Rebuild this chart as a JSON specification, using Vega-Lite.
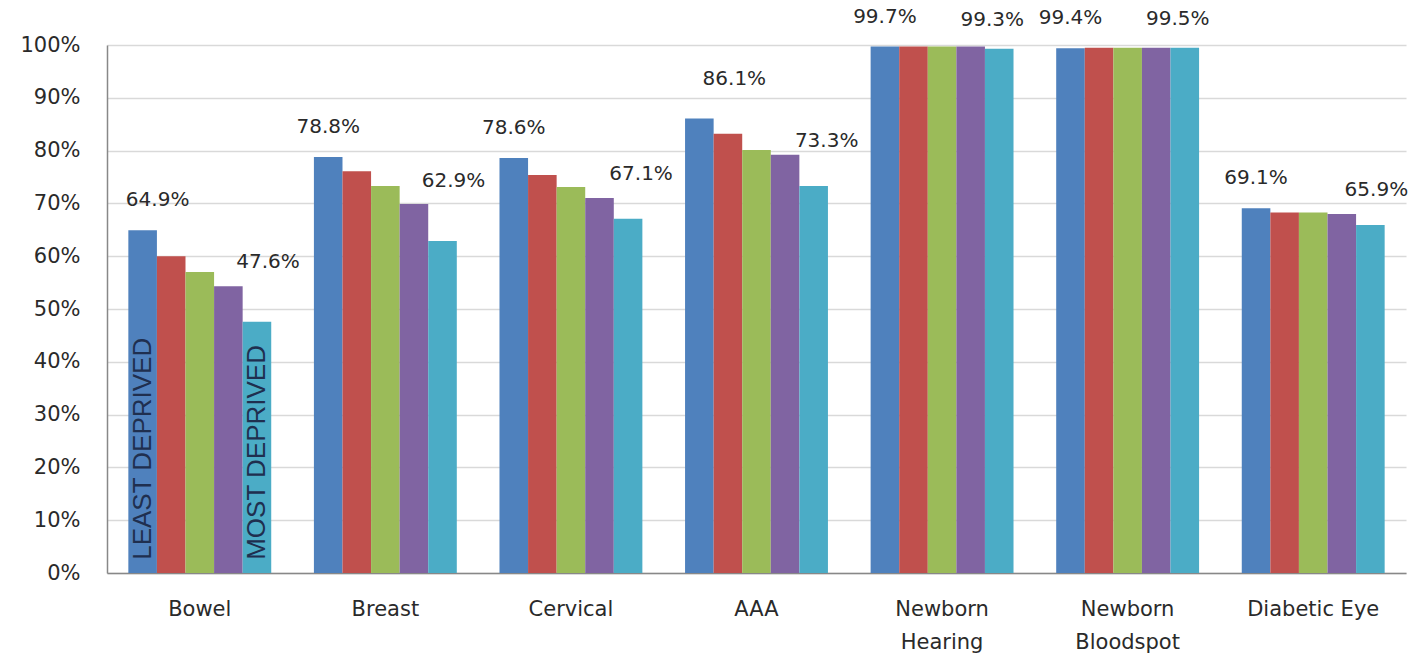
{
  "$schema": "https://vega.github.io/schema/vega-lite/v6.json",
  "width": 1299,
  "height": 528,
  "autosize": {"type": "none"},
  "padding": {"left": 107, "top": 45, "right": 8, "bottom": 93},
  "background": "white",
  "config": {"view": {"stroke": null}, "text": {"font": "DejaVu Sans", "fontSize": 20, "color": "#2a2a2a", "baseline": "bottom"}},
  "datasets": {
    "uptake": [
      {"programme": "Bowel", "quintile": 1, "uptake": 0.649},
      {"programme": "Bowel", "quintile": 2, "uptake": 0.600},
      {"programme": "Bowel", "quintile": 3, "uptake": 0.570},
      {"programme": "Bowel", "quintile": 4, "uptake": 0.543},
      {"programme": "Bowel", "quintile": 5, "uptake": 0.476},
      {"programme": "Breast", "quintile": 1, "uptake": 0.788},
      {"programme": "Breast", "quintile": 2, "uptake": 0.761},
      {"programme": "Breast", "quintile": 3, "uptake": 0.733},
      {"programme": "Breast", "quintile": 4, "uptake": 0.699},
      {"programme": "Breast", "quintile": 5, "uptake": 0.629},
      {"programme": "Cervical", "quintile": 1, "uptake": 0.786},
      {"programme": "Cervical", "quintile": 2, "uptake": 0.754},
      {"programme": "Cervical", "quintile": 3, "uptake": 0.731},
      {"programme": "Cervical", "quintile": 4, "uptake": 0.710},
      {"programme": "Cervical", "quintile": 5, "uptake": 0.671},
      {"programme": "AAA", "quintile": 1, "uptake": 0.861},
      {"programme": "AAA", "quintile": 2, "uptake": 0.832},
      {"programme": "AAA", "quintile": 3, "uptake": 0.801},
      {"programme": "AAA", "quintile": 4, "uptake": 0.792},
      {"programme": "AAA", "quintile": 5, "uptake": 0.733},
      {"programme": "Newborn Hearing", "quintile": 1, "uptake": 0.997},
      {"programme": "Newborn Hearing", "quintile": 2, "uptake": 0.997},
      {"programme": "Newborn Hearing", "quintile": 3, "uptake": 0.997},
      {"programme": "Newborn Hearing", "quintile": 4, "uptake": 0.997},
      {"programme": "Newborn Hearing", "quintile": 5, "uptake": 0.993},
      {"programme": "Newborn Bloodspot", "quintile": 1, "uptake": 0.994},
      {"programme": "Newborn Bloodspot", "quintile": 2, "uptake": 0.995},
      {"programme": "Newborn Bloodspot", "quintile": 3, "uptake": 0.995},
      {"programme": "Newborn Bloodspot", "quintile": 4, "uptake": 0.995},
      {"programme": "Newborn Bloodspot", "quintile": 5, "uptake": 0.995},
      {"programme": "Diabetic Eye", "quintile": 1, "uptake": 0.691},
      {"programme": "Diabetic Eye", "quintile": 2, "uptake": 0.683},
      {"programme": "Diabetic Eye", "quintile": 3, "uptake": 0.683},
      {"programme": "Diabetic Eye", "quintile": 4, "uptake": 0.680},
      {"programme": "Diabetic Eye", "quintile": 5, "uptake": 0.659}
    ],
    "notes": [
      {"programme": "Bowel", "quintile": 1, "note": "LEAST DEPRIVED"},
      {"programme": "Bowel", "quintile": 5, "note": "MOST DEPRIVED"}
    ]
  },
  "encoding": {
    "x": {
      "field": "programme",
      "type": "nominal",
      "sort": ["Bowel", "Breast", "Cervical", "AAA", "Newborn Hearing", "Newborn Bloodspot", "Diabetic Eye"],
      "scale": {"paddingInner": 0.23, "paddingOuter": 0.115},
      "axis": {
        "title": null,
        "labelAngle": 0,
        "labelFont": "DejaVu Sans",
        "labelFontSize": 21,
        "labelColor": "#2a2a2a",
        "labelPadding": 25,
        "labelLineHeight": 33,
        "labelBaseline": "top",
        "labelExpr": "indexof(datum.label, 'Newborn') == 0 ? split(datum.label, ' ') : datum.label",
        "domainColor": "#888888",
        "domainWidth": 1.5,
        "ticks": false
      }
    },
    "xOffset": {"field": "quintile", "type": "ordinal", "scale": {"paddingInner": 0}}
  },
  "layer": [
    {
      "data": {"name": "uptake"},
      "mark": {"type": "bar"},
      "encoding": {
        "y": {
          "field": "uptake",
          "type": "quantitative",
          "scale": {"domain": [0, 1]},
          "axis": {
            "title": null,
            "format": ".0%",
            "values": [0, 0.1, 0.2, 0.3, 0.4, 0.5, 0.6, 0.7, 0.8, 0.9, 1],
            "labelOverlap": false,
            "labelFont": "DejaVu Sans",
            "labelFontSize": 21,
            "labelColor": "#2a2a2a",
            "labelPadding": 27,
            "ticks": false,
            "gridColor": "#d9d9d9",
            "gridWidth": 1.5,
            "domainColor": "#888888",
            "domainWidth": 1.5
          }
        },
        "color": {
          "field": "quintile",
          "type": "ordinal",
          "scale": {"range": ["#4F81BD", "#C0504D", "#9BBB59", "#8064A2", "#4BACC6"]},
          "legend": null
        }
      }
    },
    {
      "data": {"name": "uptake"},
      "transform": [{"filter": "datum.quintile == 1 && datum.programme != 'Bowel' && datum.programme != 'AAA'"}],
      "mark": {"type": "text", "dy": -20, "dx": 0},
      "encoding": {"y": {"field": "uptake", "type": "quantitative"}, "text": {"field": "uptake", "type": "quantitative", "format": ".1%"}}
    },
    {
      "data": {"name": "uptake"},
      "transform": [{"filter": "datum.quintile == 1 && datum.programme == 'Bowel'"}],
      "mark": {"type": "text", "dy": -20, "dx": 15},
      "encoding": {"y": {"field": "uptake", "type": "quantitative"}, "text": {"field": "uptake", "type": "quantitative", "format": ".1%"}}
    },
    {
      "data": {"name": "uptake"},
      "transform": [{"filter": "datum.quintile == 1 && datum.programme == 'AAA'"}],
      "mark": {"type": "text", "dy": -29, "dx": 35},
      "encoding": {"y": {"field": "uptake", "type": "quantitative"}, "text": {"field": "uptake", "type": "quantitative", "format": ".1%"}}
    },
    {
      "data": {"name": "uptake"},
      "transform": [{"filter": "datum.quintile == 5 && (datum.programme == 'Bowel' || datum.programme == 'Breast')"}],
      "mark": {"type": "text", "dy": -50, "dx": 11},
      "encoding": {"y": {"field": "uptake", "type": "quantitative"}, "text": {"field": "uptake", "type": "quantitative", "format": ".1%"}}
    },
    {
      "data": {"name": "uptake"},
      "transform": [{"filter": "datum.quintile == 5 && (datum.programme == 'Cervical' || datum.programme == 'AAA')"}],
      "mark": {"type": "text", "dy": -35, "dx": 13},
      "encoding": {"y": {"field": "uptake", "type": "quantitative"}, "text": {"field": "uptake", "type": "quantitative", "format": ".1%"}}
    },
    {
      "data": {"name": "uptake"},
      "transform": [{"filter": "datum.quintile == 5 && indexof(datum.programme, 'Newborn') == 0"}],
      "mark": {"type": "text", "dy": -19, "dx": -7},
      "encoding": {"y": {"field": "uptake", "type": "quantitative"}, "text": {"field": "uptake", "type": "quantitative", "format": ".1%"}}
    },
    {
      "data": {"name": "uptake"},
      "transform": [{"filter": "datum.quintile == 5 && datum.programme == 'Diabetic Eye'"}],
      "mark": {"type": "text", "dy": -25, "dx": 6},
      "encoding": {"y": {"field": "uptake", "type": "quantitative"}, "text": {"field": "uptake", "type": "quantitative", "format": ".1%"}}
    },
    {
      "data": {"name": "notes"},
      "mark": {"type": "text", "angle": 270, "align": "left", "baseline": "middle", "font": "Liberation Sans", "fontSize": 26, "color": "#1f2f4f"},
      "encoding": {
        "y": {"datum": 0.025, "type": "quantitative"},
        "text": {"field": "note", "type": "nominal"}
      }
    }
  ]
}
